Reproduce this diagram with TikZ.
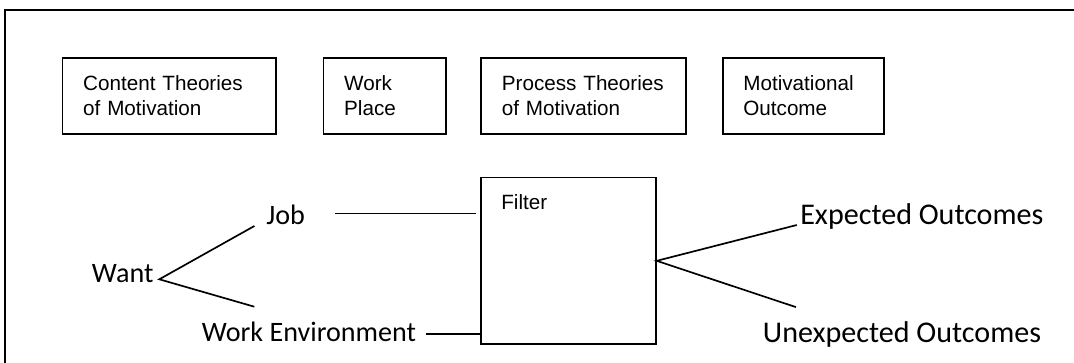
\documentclass[tikz,border=0pt]{standalone}
\usepackage{fontspec}
\setmainfont{Liberation Sans}
\newfontfamily\calibri{Carlito}
\usepackage{tikz}

\begin{document}
\begin{tikzpicture}[
    box/.style={draw, line width=1.2pt, anchor=west, align=left, inner xsep=0.515cm, inner ysep=0pt, minimum height=\H cm, font=\fontsize{14.7}{17.7}\selectfont},
    word/.style={anchor=base west, inner sep=0pt, font=\calibri\fontsize{20}{24}\selectfont},
    bigword/.style={word, font=\calibri\fontsize{21.4}{25}\selectfont},
    link/.style={line width=1.2pt}
]
\def\H{1.89}
\def\Y{-2.40}

\useasboundingbox (0,0) rectangle (26.85,-9.075);
\clip (0,0) rectangle (26.85,-9.075);

% outer frame, runs off the page
\draw[link] (0.13,-0.2575) rectangle (27.5,-10);

% top row
\node[box, text width=4.303cm] (content) at (1.5425,\Y) {Content Theories\\of Motivation};
\node[box, text width=2.033cm] (workplace) at (8.0675,\Y) {Work\\Place};
\node[box, text width=4.095cm] (process) at (12.01,\Y) {Process Theories\\of Motivation};
\node[box, text width=3.003cm] (outcome) at (18.0475,\Y) {Motivational\\Outcome};

% filter
\node[draw, line width=1.2pt, anchor=north west, minimum width=4.375cm, minimum height=4.165cm, inner sep=0pt] (filter) at (12.0,-4.4175) {};
\node[anchor=north west, inner sep=0pt, font=\fontsize{14.7}{17.7}\selectfont] (filtertext) at ([shift={(0.525,-0.43)}]filter.north west) {Filter};

\node[word] (want) at (2.2925,-7.0675) {Want};
\node[word] (job) at (6.65,-5.625) {Job};
\node[word] (workenv) at (5.0425,-8.5425) {Work Environment};
\node[bigword] (expected) at (20.0,-5.625) {Expected Outcomes};
\node[bigword] (unexpected) at (19.0675,-8.5575) {Unexpected Outcomes};

\draw[link] ([shift={(-0.29,-0.025)}]job.base west)
    -- ([shift={(0.14,0.085)}]want.base east)
    -- ([shift={(1.315,0.875)}]workenv.base west);

\draw[link] ([shift={(0.75,0.29)}]job.base east) coordinate (jobend) -- ([xshift=-0.1cm]jobend -| filter.west);
\draw[link] ([shift={(0.23,0.19)}]workenv.base east) coordinate (envend) -- (envend -| filter.west);

\draw[link] ([xshift=-0.08cm]expected.base west)
    -- (filter.east)
    -- ([shift={(0.83,0.88)}]unexpected.base west);
\end{tikzpicture}
\end{document}
